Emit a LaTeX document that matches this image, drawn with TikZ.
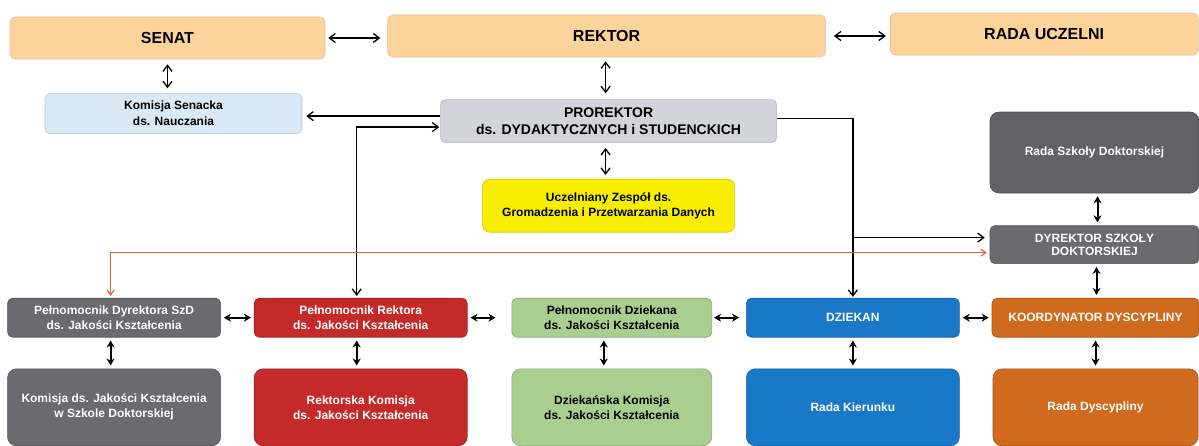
\documentclass[tikz,border=0pt]{standalone}
\usepackage{fontspec}
\setmainfont{Liberation Sans}
\usetikzlibrary{positioning, arrows.meta}
\definecolor{peach}{HTML}{FBD39B}
\definecolor{paleblue}{HTML}{D9E9F6}
\definecolor{palegray}{HTML}{D3D3DB}
\definecolor{lemon}{HTML}{F7EE00}
\definecolor{slate}{HTML}{6A6A6F}
\definecolor{brick}{HTML}{C42A2A}
\definecolor{sage}{HTML}{A9CF90}
\definecolor{azure}{HTML}{1A78C8}
\definecolor{rust}{HTML}{D06A1E}
\definecolor{ember}{HTML}{DE6034}

\begin{document}
\begin{tikzpicture}[x=1pt, y=-1pt,
    box/.style={rectangle, rounded corners=5pt, align=center, inner sep=2pt, line width=0.6pt},
    topbox/.style={box, minimum height=42pt, fill=peach, draw=peach!92!black, font=\bfseries\fontsize{16}{18}\selectfont},
    midbox/.style={box, fill=#1, draw=#1!85!black, font=\bfseries\fontsize{12}{16}\selectfont},
    unitbox/.style={box, minimum width=213pt, minimum height=39pt, fill=#1, draw=#1!80!black, text=white, font=\bfseries\fontsize{12}{15}\selectfont},
    councilbox/.style={unitbox=#1, rounded corners=9pt, minimum height=77pt},
    arrow/.style={line width=1.3pt, -{Straight Barb[length=6pt, width=9pt]}},
    dblarrow/.style={line width=1.3pt, {Straight Barb[length=6pt, width=9pt]}-{Straight Barb[length=6pt, width=9pt]}},
    link/.style={line width=2pt, {Stealth[length=7pt, width=8pt]}-{Stealth[length=7pt, width=8pt]}, shorten <=3pt, shorten >=3pt},
]
\useasboundingbox (0,0) rectangle (1199,445);

% Top level
\node[topbox, minimum width=315pt] (senat) at (167.5,38) {SENAT};
\node[topbox, minimum width=438pt, right=62pt of senat, yshift=2pt] (rektor) {REKTOR};
\node[topbox, minimum width=308pt, right=64pt of rektor, yshift=2pt] (rada) {RADA UCZELNI};

% Prorector level
\node[midbox=paleblue, minimum width=257pt, minimum height=40pt, below=34pt of senat, xshift=6pt] (komsen) {Komisja Senacka\\ds. Nauczania};
\node[midbox=palegray, minimum width=336pt, minimum height=43pt, below=42pt of rektor, xshift=2pt, font=\bfseries\fontsize{14}{17}\selectfont] (prorek) {PROREKTOR\\ds. DYDAKTYCZNYCH i STUDENCKICH};
\node[midbox=lemon, minimum width=252pt, minimum height=53pt, below=36pt of prorek, rounded corners=7pt, font=\bfseries\fontsize{12}{15}\selectfont] (uzes) {Uczelniany Zespół ds.\\Gromadzenia i Przetwarzania Danych};

% Doctoral school column
\node[councilbox=slate!92!black, minimum width=209pt, minimum height=81pt] (rsd) at (1094.5,152.5) {Rada Szkoły Doktorskiej};
\node[unitbox=slate, minimum width=209pt, minimum height=38pt, below=32pt of rsd, font=\bfseries\fontsize{12}{13}\selectfont] (dsd) {DYREKTOR SZKOŁY\\DOKTORSKIEJ};
\node[unitbox=rust, minimum width=207pt, below=34pt of dsd, xshift=1pt] (koord) {KOORDYNATOR DYSCYPLINY};
\node[councilbox=rust, minimum width=205pt, below=31pt of koord] (rdys) {Rada Dyscypliny};

% Quality row
\node[unitbox=azure, left=32pt of koord] (dziekan) {DZIEKAN};
\node[unitbox=sage, minimum width=200pt, text=black, left=34pt of dziekan] (pdzk) {Pełnomocnik Dziekana\\ds. Jakości Kształcenia};
\node[unitbox=brick, left=44pt of pdzk] (prek) {Pełnomocnik Rektora\\ds. Jakości Kształcenia};
\node[unitbox=slate, left=33pt of prek] (pdsd) {Pełnomocnik Dyrektora SzD\\ds. Jakości Kształcenia};

% Committees
\node[councilbox=slate, below=31pt of pdsd] (kjk) {Komisja ds. Jakości Kształcenia\\w Szkole Doktorskiej};
\node[councilbox=brick, below=31pt of prek] (rkom) {Rektorska Komisja\\ds. Jakości Kształcenia};
\node[councilbox=sage, minimum width=200pt, text=black, below=31pt of pdzk] (dkom) {Dziekańska Komisja\\ds. Jakości Kształcenia};
\node[councilbox=azure, below=31pt of dziekan] (rkier) {Rada Kierunku};

% Arrows for top level
\draw[dblarrow, shorten <=3pt, shorten >=7pt] (senat) -- (senat -| rektor.west);
\draw[dblarrow, shorten <=8pt, shorten >=4pt] (rektor) -- (rektor -| rada.west);
\draw[dblarrow, shorten <=5pt, shorten >=5pt] (senat.south) -- (senat.south |- komsen.north);
\draw[dblarrow, shorten <=4pt, shorten >=6pt] ([xshift=-1pt]rektor.south) -- ([xshift=-3pt]prorek.north);
\draw[dblarrow, shorten <=5pt, shorten >=4pt] ([xshift=-3pt]prorek.south) -- ([xshift=-3pt]prorek.south |- uzes.north);

% Arrows for prorector
\draw[arrow, shorten >=4pt] ([yshift=5pt]prorek.west) -- ([yshift=5pt]prorek.west -| komsen.east);
\draw[dblarrow, shorten <=2pt, shorten >=1pt] ([xshift=-4pt]prek.north) |- ([yshift=-6pt]prorek.west);
\draw[arrow, shorten >=1pt] ([yshift=2.5pt]prorek.east) -| (dziekan.north);
\draw[arrow, shorten >=5pt] ([yshift=7pt]dsd.west -| dziekan.north) -- ([yshift=7pt]dsd.west);
\draw[ember, line width=1.1pt, {Straight Barb[length=5pt, width=7pt]}-{Straight Barb[length=5pt, width=7pt]}, shorten <=2pt, shorten >=3pt] ([xshift=-3.5pt]pdsd.north) |- ([yshift=-8pt]dsd.west);

% Links between units
\draw[link] (pdsd) -- (prek);
\draw[link, shorten >=16pt] (prek) -- (pdzk);
\draw[link, shorten <=2pt, shorten >=7pt] (pdzk) -- (dziekan);
\draw[link] (dziekan) -- (koord);
\draw[link] ([xshift=-3.5pt]pdsd.south) -- ([xshift=-3.5pt]pdsd.south |- kjk.north);
\draw[link] ([xshift=-4pt]prek.south) -- ([xshift=-4pt]prek.south |- rkom.north);
\draw[link] ([xshift=-8pt]pdzk.south) -- ([xshift=-8pt]pdzk.south |- dkom.north);
\draw[link] (dziekan) -- (rkier);
\draw[link] (koord) -- (rdys);
\draw[link] ([xshift=3pt]rsd.south) -- ([xshift=3pt]rsd.south |- dsd.north);
\draw[link] ([xshift=2pt]dsd.south) -- ([xshift=2pt]dsd.south |- koord.north);

\end{tikzpicture}
\end{document}
